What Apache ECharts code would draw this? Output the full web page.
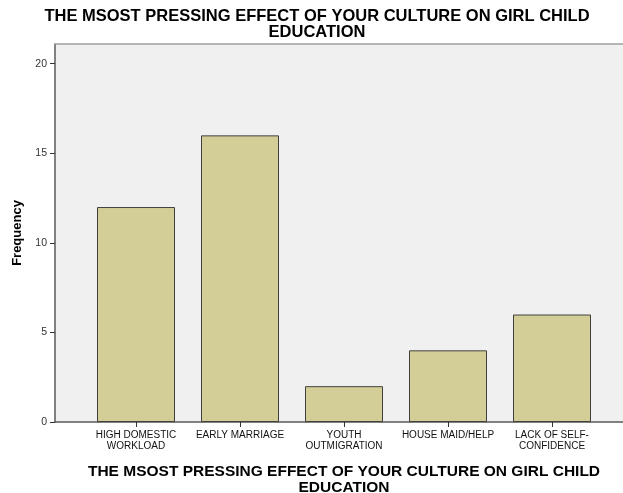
<!DOCTYPE html>
<html>
<head>
<meta charset="utf-8">
<script src="https://cdn.jsdelivr.net/npm/echarts@6/dist/echarts.min.js"></script>
<style>html,body{margin:0;padding:0;background:#fff}#c{width:623px;height:493px}</style>
</head>
<body>
<div id="c"></div>
<script>
const categories = ['HIGH DOMESTIC\nWORKLOAD', 'EARLY MARRIAGE', 'YOUTH\nOUTMIGRATION', 'HOUSE MAID/HELP', 'LACK OF SELF-\nCONFIDENCE'];
const frequency = [12, 16, 2, 4, 6];
const yTicks = [0, 5, 10, 15, 20];
const titleText = 'THE MSOST PRESSING EFFECT OF YOUR CULTURE ON GIRL CHILD\nEDUCATION';

const chart = echarts.init(document.getElementById('c'), null, {renderer: 'canvas'});
const font = 'Liberation Sans, Arial, sans-serif';
chart.setOption({
  animation: false,
  backgroundColor: '#ffffff',
  title: [
    {text: titleText, top: 8, left: 317, textAlign: 'center', padding: 0,
     textStyle: {fontFamily: font, fontSize: 16.5, fontWeight: 'bold', color: '#000', lineHeight: 16}},
    {text: titleText, top: 464, left: 344, textAlign: 'center', padding: 0,
     textStyle: {fontFamily: font, fontSize: 15.5, fontWeight: 'bold', color: '#000', lineHeight: 16}}
  ],
  grid: [
    {left: 55, right: -30, top: 44, bottom: 71, show: true, backgroundColor: '#f0f0f0',
     borderWidth: 0, outerBoundsMode: 'none', containLabel: false},
    {left: 84, right: 19, top: 44, bottom: 71, outerBoundsMode: 'none', containLabel: false}
  ],
  xAxis: [
    {gridIndex: 0, type: 'value', min: 0, max: 1, axisLabel: {show: false}, axisTick: {show: false},
     splitLine: {show: false}, axisLine: {show: true, lineStyle: {color: '#5a5a5a', width: 1.5}}},
    {gridIndex: 0, type: 'value', position: 'top', min: 0, max: 1, axisLabel: {show: false}, axisTick: {show: false},
     splitLine: {show: false}, axisLine: {show: true, lineStyle: {color: '#a0a0a0', width: 1.5}}},
    {gridIndex: 1, type: 'category', data: categories,
     axisLine: {show: false},
     axisTick: {show: true, alignWithLabel: true, length: 5, lineStyle: {color: '#333'}},
     axisLabel: {interval: 0, fontFamily: font, fontSize: 10, color: '#111', lineHeight: 11, margin: 8}}
  ],
  yAxis: [
    {gridIndex: 0, type: 'value', min: 0, max: 21.1,
     name: 'Frequency', nameLocation: 'middle', nameGap: 30,
     nameTextStyle: {fontFamily: font, fontSize: 13, fontWeight: 'bold', color: '#000'},
     axisLine: {show: true, lineStyle: {color: '#5a5a5a', width: 1.5}},
     axisTick: {show: true, length: 5, customValues: yTicks, lineStyle: {color: '#333'}},
     axisLabel: {customValues: yTicks, fontFamily: font, fontSize: 10.5, color: '#333', margin: 8},
     splitLine: {show: false}},
    {gridIndex: 1, type: 'value', min: 0, max: 21.1, show: false, splitLine: {show: false}}
  ],
  series: [{
    type: 'bar', xAxisIndex: 2, yAxisIndex: 1, data: frequency, barWidth: '75%',
    itemStyle: {color: '#d3ce97', borderColor: '#404040', borderWidth: 1}
  }]
});
</script>
</body>
</html>
